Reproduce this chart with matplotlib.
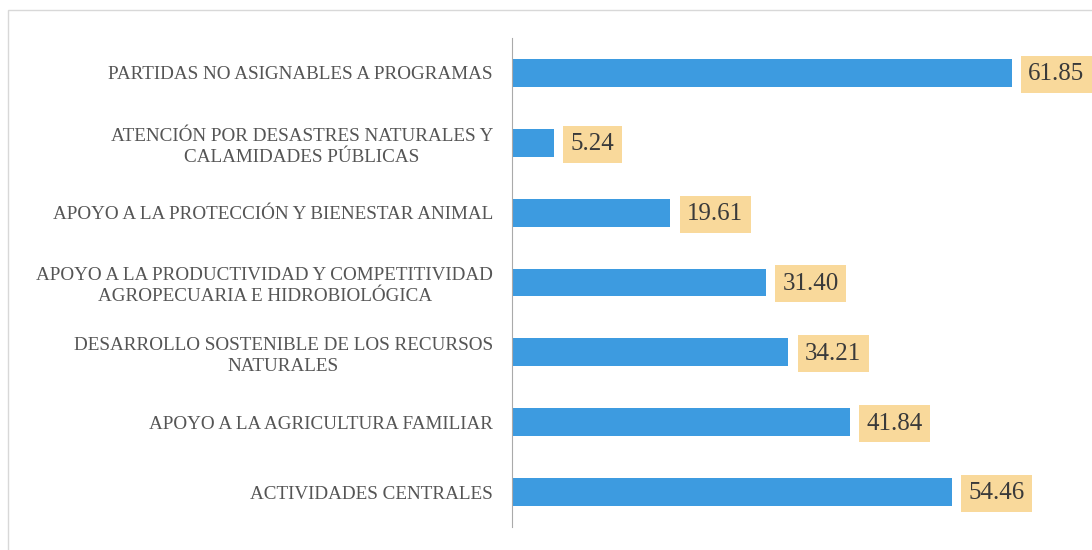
import matplotlib.pyplot as plt
from matplotlib.patches import Rectangle
from matplotlib.transforms import ScaledTranslation

categories = [
    "PARTIDAS NO ASIGNABLES A PROGRAMAS",
    "ATENCIÓN POR DESASTRES NATURALES Y\nCALAMIDADES PÚBLICAS",
    "APOYO A LA PROTECCIÓN Y BIENESTAR ANIMAL",
    "APOYO A LA PRODUCTIVIDAD Y COMPETITIVIDAD\nAGROPECUARIA E HIDROBIOLÓGICA",
    "DESARROLLO SOSTENIBLE DE LOS RECURSOS\nNATURALES",
    "APOYO A LA AGRICULTURA FAMILIAR",
    "ACTIVIDADES CENTRALES",
]
values = [61.85, 5.24, 19.61, 31.40, 34.21, 41.84, 54.46]

plt.rcParams['font.family'] = ['Liberation Serif', 'DejaVu Serif']

fig = plt.figure(figsize=(10.92, 5.5), dpi=100)
# light frame of the scanned page (open at the bottom and right)
fig.patches.append(Rectangle((8 / 1092, -0.1), 1.0, 1.1 - 10 / 550,
                             transform=fig.transFigure, fill=False,
                             edgecolor='#d8d8d8', linewidth=1.0))

ax = fig.add_axes([512 / 1092, 23 / 550, 1 - 512 / 1092, 489 / 550])
ypos = list(range(len(categories)))
ax.barh(ypos, values, height=0.4, color='#3d9be0')
ax.set_ylim(len(categories) - 0.5, -0.5)
ax.set_xlim(0, 71.8)

for y, v in zip(ypos, values):
    ax.annotate(f"{v:.2f}", xy=(v, y), xytext=(12, -1),
                textcoords='offset points', va='center', ha='left',
                fontsize=18, color='#3a3a3a', annotation_clip=False,
                bbox=dict(boxstyle='square,pad=0.3', facecolor='#f9d99b',
                          edgecolor='none'))

ax.set_yticks(ypos)
ax.set_yticklabels(categories, fontsize=13.8, color='#555555',
                   multialignment='center', linespacing=1.3)
ax.tick_params(axis='y', length=0, pad=0)
for lbl in ax.get_yticklabels():
    lbl.set_transform(lbl.get_transform() +
                      ScaledTranslation(-19 / 100, 0, fig.dpi_scale_trans))
ax.set_xticks([])
for s in ['top', 'right', 'bottom']:
    ax.spines[s].set_visible(False)
ax.spines['left'].set_color('#aaaaaa')

plt.savefig('out.png', dpi=100)
